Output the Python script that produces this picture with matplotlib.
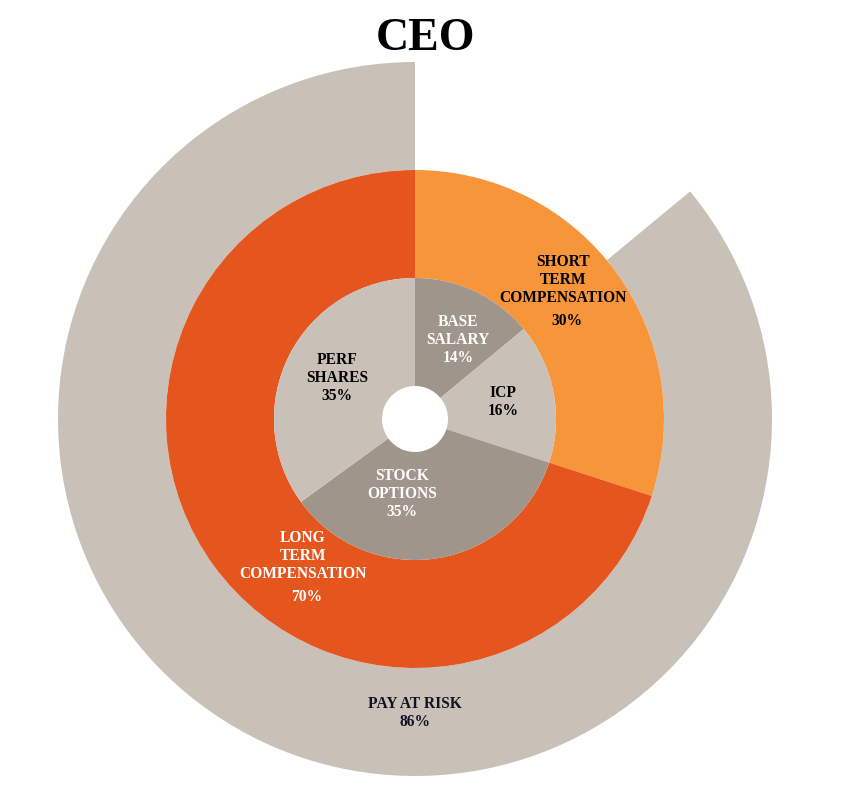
import numpy as np
import matplotlib.pyplot as plt

# data
inner_labels = ["BASE\nSALARY", "ICP", "STOCK\nOPTIONS", "PERF\nSHARES"]
inner_values = [14, 16, 35, 35]
middle_labels = ["SHORT\nTERM\nCOMPENSATION", "LONG\nTERM\nCOMPENSATION"]
middle_values = [30, 70]
outer_labels = ["", "PAY AT RISK"]
outer_values = [14, 86]

# colours
inner_colors = ["#A0958A", "#C9C1B8", "#A0958A", "#C9C1B8"]
inner_text = ["white", "black", "white", "black"]
middle_colors = ["#F7953A", "#E5561F"]
middle_text = ["black", "white"]
outer_colors = ["none", "#C9C1B8"]

W, H = 852, 811
CX, CY = 415, H - 419
R_OUT, R_MID, R_IN, R_HOLE = 357, 249, 141, 33

# label anchors: (degrees clockwise from top, radius in px)
inner_pos = [(28.6, 90), (79, 90), (190, 76), (298, 88)]
middle_pos = [(46.8, 203), (219.3, 177)]
outer_pos = [None, (180, 294)]

FS = 11.2
LS = 1.18

plt.rcParams['font.family'] = ['Liberation Serif', 'DejaVu Serif']

fig = plt.figure(figsize=(W / 100, H / 100), dpi=100)
ax = fig.add_axes([0, 0, 1, 1])


def polar(ang, r):
    a = np.radians(ang)
    return CX + r * np.sin(a), CY + r * np.cos(a)


common = dict(startangle=90, counterclock=False, center=(CX, CY), frame=True)
ax.pie(outer_values, radius=R_OUT, colors=outer_colors,
       wedgeprops=dict(width=R_OUT - R_MID, linewidth=0), **common)
ax.pie(middle_values, radius=R_MID, colors=middle_colors,
       wedgeprops=dict(width=R_MID - R_IN, linewidth=0), **common)
ax.pie(inner_values, radius=R_IN, colors=inner_colors,
       wedgeprops=dict(width=R_IN - R_HOLE, linewidth=0), **common)
ax.set_xlim(0, W)
ax.set_ylim(0, H)
ax.set_aspect('equal')
ax.axis('off')

for lab, v, pos, c in zip(inner_labels, inner_values, inner_pos, inner_text):
    x, y = polar(*pos)
    ax.text(x, y, f"{lab}\n{v}%", ha='center', va='center', color=c,
            fontsize=FS, fontweight='bold', linespacing=LS)

for lab, v, pos, c in zip(middle_labels, middle_values, middle_pos, middle_text):
    x, y = polar(*pos)
    ax.text(x, y, lab, ha='center', va='center', color=c,
            fontsize=FS, fontweight='bold', linespacing=LS)
    ax.text(x + 4, y - 41, f"{v}%", ha='center', va='center', color=c,
            fontsize=FS, fontweight='bold')

for lab, v, pos in zip(outer_labels, outer_values, outer_pos):
    if pos is None:
        continue
    x, y = polar(*pos)
    ax.text(x, y, f"{lab}\n{v}%", ha='center', va='center', color="#111122",
            fontsize=FS, fontweight='bold', linespacing=1.1)

ax.text(426, H - 39, "CEO", ha='center', va='center', fontsize=33,
        fontweight='bold', color='black')

fig.savefig("out.png", dpi=100, facecolor='white')
